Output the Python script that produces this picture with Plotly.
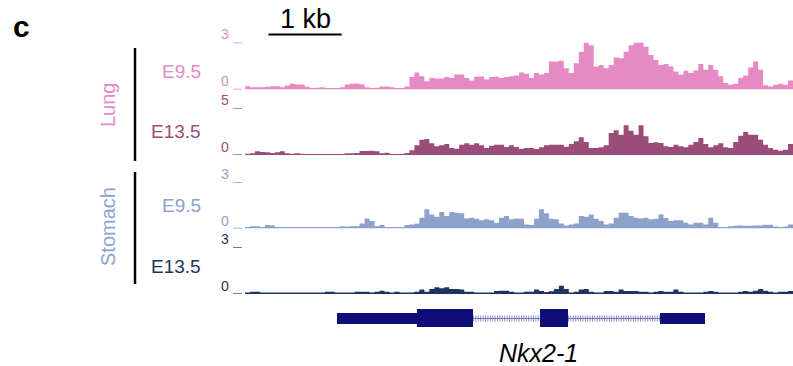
import plotly.graph_objects as go

W, H = 793, 366
BIN_BP = 68
N_BINS = 110
REGION_END = BIN_BP * N_BINS

lung_e95 = [0.21,0.15,0.15,0.15,0.17,0.21,0.21,0.15,0.26,0.36,0.32,0.32,0.17,0.09,0.11,0.15,0.09,0.09,0.09,0.15,
            0.32,0.36,0.38,0.34,0.15,0.09,0.11,0.19,0.19,0.15,0.09,0.09,0.19,0.79,1.09,0.85,0.53,0.74,0.70,0.70,
            0.79,0.74,0.96,0.96,0.74,0.57,0.81,0.83,0.64,0.79,0.81,0.74,0.79,0.85,0.89,
            1.09,1.01,0.74,1.05,0.95,1.05,1.78,1.78,1.83,1.36,1.05,1.68,2.41,3.0,2.83,1.47,1.57,1.36,1.57,2.04,
            1.99,2.41,2.83,3.0,3.0,2.73,2.20,1.89,1.57,1.62,1.47,1.15,0.94,1.20,1.05,1.22,1.62,1.26,1.57,1.26,
            0.84,0.42,0.31,0.36,0.73,0.90,1.41,1.78,1.26,0.27,0.19,0.31,0.36,0.31,0.57]

lung_e135 = [0.14,0.18,0.39,0.32,0.28,0.21,0.28,0.39,0.18,0.14,0.18,0.14,0.11,0.11,0.11,0.11,0.11,0.11,0.11,0.11,
             0.18,0.18,0.21,0.43,0.43,0.46,0.39,0.18,0.25,0.11,0.11,0.11,0.21,0.50,1.03,1.63,1.70,1.24,0.92,1.03,
             1.17,0.74,0.67,1.10,1.24,1.10,1.24,1.03,0.74,0.99,1.10,1.10,0.85,1.03,0.85,
             0.67,0.74,0.74,0.64,0.82,1.03,1.10,1.10,1.10,0.89,1.17,1.45,1.88,1.38,0.74,0.74,0.82,1.03,2.34,2.62,
             2.16,3.16,2.59,2.16,3.16,1.99,1.28,1.35,1.28,0.92,0.85,1.10,0.92,0.82,1.10,1.38,1.81,1.17,0.82,1.03,
             1.24,0.82,0.74,1.38,2.06,2.45,2.16,2.16,1.63,1.10,0.74,0.57,0.46,0.57,1.17]

stomach_e95 = [0.09,0.15,0.15,0.09,0.22,0.20,0.09,0.09,0.09,0.09,0.09,0.09,0.09,0.09,0.09,0.09,0.09,0.09,0.09,0.15,
               0.13,0.15,0.15,0.33,0.65,0.48,0.15,0.22,0.09,0.09,0.09,0.09,0.22,0.26,0.30,0.70,1.24,0.91,0.76,1.07,
               0.80,1.07,1.02,0.98,0.65,0.70,0.63,0.54,0.59,0.54,0.37,0.70,0.80,0.59,0.65,
               0.63,0.26,0.22,0.63,1.24,0.98,0.63,0.59,0.33,0.20,0.26,0.33,0.80,0.76,0.91,0.63,0.48,0.26,0.33,0.70,
               1.02,1.02,0.80,0.70,0.65,0.70,0.59,0.63,0.91,0.67,0.48,0.54,0.54,0.37,0.26,0.37,0.37,0.26,0.70,0.37,
               0.09,0.09,0.15,0.17,0.20,0.17,0.17,0.20,0.20,0.24,0.24,0.13,0.09,0.13,0.26]

stomach_e135 = [0.09,0.15,0.15,0.09,0.09,0.09,0.09,0.09,0.09,0.09,0.09,0.09,0.09,0.09,0.09,0.09,0.15,0.15,0.09,0.09,
                0.09,0.09,0.15,0.15,0.15,0.09,0.15,0.21,0.15,0.09,0.15,0.09,0.09,0.09,0.15,0.28,0.15,0.32,0.43,0.36,
                0.43,0.32,0.32,0.28,0.15,0.15,0.09,0.09,0.09,0.09,0.19,0.21,0.21,0.15,0.09,
                0.09,0.15,0.15,0.28,0.19,0.13,0.17,0.32,0.53,0.32,0.09,0.15,0.28,0.32,0.15,0.09,0.09,0.19,0.19,0.15,
                0.28,0.19,0.19,0.19,0.15,0.15,0.09,0.15,0.19,0.15,0.15,0.28,0.15,0.09,0.09,0.09,0.09,0.15,0.19,0.15,
                0.09,0.09,0.09,0.09,0.15,0.19,0.15,0.21,0.32,0.21,0.15,0.09,0.15,0.15,0.19]

track_names = ["E9.5", "E13.5", "E9.5", "E13.5"]
track_values = [lung_e95, lung_e135, stomach_e95, stomach_e135]
track_max = [3, 5, 3, 3]
track_colors = ["#E68AC3", "#9B4D79", "#8EA1CB", "#1E3460"]

group_names = ["Lung", "Stomach"]
group_colors = ["#E68AC3", "#8EA1CB"]

# gene model (bp)
utr_segments = [(1256, 2348), (5665, 6279)]
cds_segments = [(2348, 3112), (4027, 4409)]
intron_segments = [(3112, 4027), (4409, 5665)]
gene_name = "Nkx2-1"
scale_bar = (320, 1320)
scale_label = "1 kb"

# layout in pixels
def px(x):
    return x / W

def py(y):
    return 1 - y / H

track_px = [(42.5, 89.5), (108, 155), (182, 228.5), (247, 294)]  # top, baseline
label_y = [71, 131, 206, 266]

fig = go.Figure()
layout = {}
shapes = []
annotations = []

for i, vals in enumerate(track_values):
    n = i + 1
    xs = [k * BIN_BP for k in range(len(vals))] + [len(vals) * BIN_BP]
    ys = list(vals) + [vals[-1]]
    fig.add_trace(go.Scatter(
        x=xs, y=ys, mode="lines", line=dict(width=0, shape="hv", color=track_colors[i]),
        fill="tozeroy", fillcolor=track_colors[i], xaxis=f"x{n}", yaxis=f"y{n}",
        hoverinfo="skip", showlegend=False))
    top, base = track_px[i]
    layout[f"xaxis{n}"] = dict(domain=[px(245), 1.0], range=[0, REGION_END], visible=False,
                               anchor=f"y{n}", fixedrange=True)
    layout[f"yaxis{n}"] = dict(domain=[py(base), py(top)], range=[0, track_max[i]], visible=False,
                               anchor=f"x{n}", fixedrange=True)
    for v in (0, track_max[i]):
        shapes.append(dict(type="line", xref="paper", yref=f"y{n}", x0=px(233), x1=px(242), y0=v, y1=v,
                           line=dict(color=track_colors[i], width=1.3)))
        annotations.append(dict(xref="paper", yref=f"y{n}", x=px(231), y=v, text=str(v),
                                 xanchor="right", yanchor="middle", yshift=8, showarrow=False,
                                 font=dict(size=14, color=track_colors[i])))
    annotations.append(dict(xref="paper", yref="paper", x=px(203), y=py(label_y[i]), text=track_names[i],
                             xanchor="right", yanchor="middle", showarrow=False,
                             font=dict(size=19, color=track_colors[i])))

# group labels and brackets
group_spans = [(48, 161), (172, 284)]
group_centers = [105, 227]
for g in range(2):
    y0, y1 = group_spans[g]
    shapes.append(dict(type="line", xref="paper", yref="paper", x0=px(135), x1=px(135),
                       y0=py(y0), y1=py(y1), line=dict(color="black", width=2.5)))
    annotations.append(dict(xref="paper", yref="paper", x=px(108), y=py(group_centers[g]),
                             text=group_names[g], textangle=-90, showarrow=False,
                             xanchor="center", yanchor="middle",
                             font=dict(size=20, color=group_colors[g])))

# scale bar
shapes.append(dict(type="line", xref="x1", yref="paper", x0=scale_bar[0], x1=scale_bar[1],
                   y0=py(34.5), y1=py(34.5), line=dict(color="black", width=2)))
annotations.append(dict(xref="x1", yref="paper", x=(scale_bar[0] + scale_bar[1]) / 2, y=py(19),
                         text=scale_label, showarrow=False, xanchor="center", yanchor="middle",
                         font=dict(size=27, color="black")))

# panel letter
annotations.append(dict(xref="paper", yref="paper", x=px(11), y=py(27), text="<b>c</b>",
                         showarrow=False, xanchor="left", yanchor="middle",
                         font=dict(size=30, color="black")))

# gene model
gene_color = "#0D0D78"
for a, b in intron_segments:
    shapes.append(dict(type="line", xref="x4", yref="paper", x0=a, x1=b, y0=py(318.5), y1=py(318.5),
                       line=dict(color="#8E8ED2", width=6, dash="1px,1.4px")))
    shapes.append(dict(type="line", xref="x4", yref="paper", x0=a, x1=b, y0=py(318.5), y1=py(318.5),
                       line=dict(color="#7070C0", width=1)))
for a, b in utr_segments:
    shapes.append(dict(type="rect", xref="x4", yref="paper", x0=a, x1=b, y0=py(324), y1=py(313),
                       fillcolor=gene_color, line=dict(width=0)))
for a, b in cds_segments:
    shapes.append(dict(type="rect", xref="x4", yref="paper", x0=a, x1=b, y0=py(327), y1=py(309),
                       fillcolor=gene_color, line=dict(width=0)))
annotations.append(dict(xref="paper", yref="paper", x=px(538), y=py(353), text=f"<i>{gene_name}</i>",
                         showarrow=False, xanchor="center", yanchor="middle",
                         font=dict(size=25, color="black")))

fig.update_layout(
    width=W, height=H, margin=dict(l=0, r=0, t=0, b=0),
    paper_bgcolor="white", plot_bgcolor="rgba(0,0,0,0)",
    font=dict(family="Liberation Sans, Arial, sans-serif"),
    shapes=shapes, annotations=annotations, showlegend=False,
    **layout)

fig.write_html("out.html", config={"displayModeBar": False})
